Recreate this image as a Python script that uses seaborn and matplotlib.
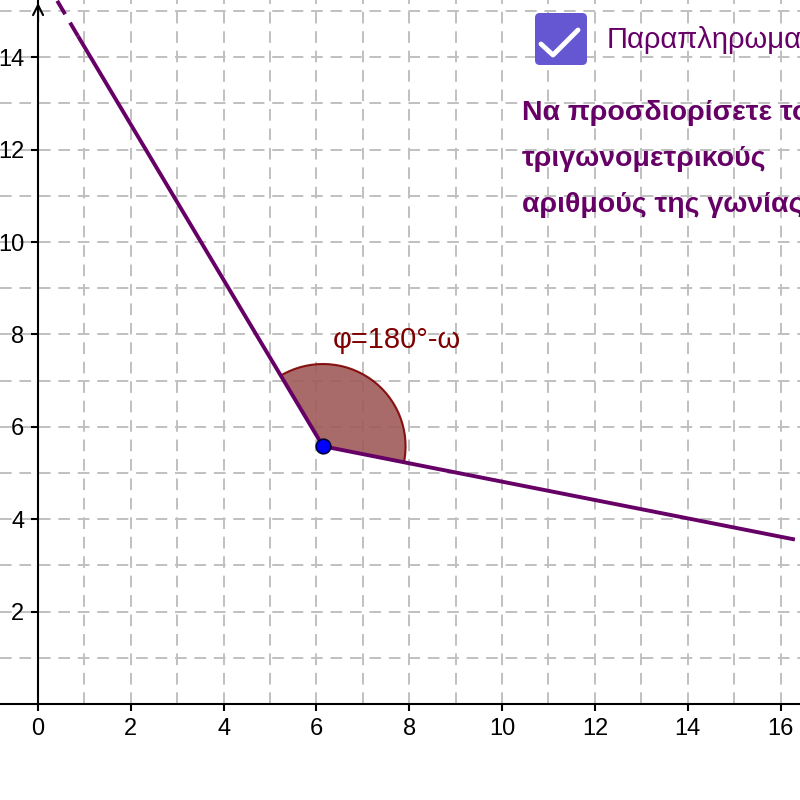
import numpy as np
import pandas as pd
import matplotlib
matplotlib.use('Agg')
import matplotlib.pyplot as plt
import seaborn as sns
from matplotlib.patches import Wedge, FancyBboxPatch
from matplotlib.lines import Line2D

# 데이터: 꼭짓점과 두 반직선의 끝점
vertex = [6.14, 5.58]
ray1_solid_end = [0.86, 14.46]
ray1_dash_end = [0.25, 15.5]
ray2_end = [16.31, 3.56]
arc_radius = 1.78
angle_label = 'φ=180°-ω'

x_ticks = [0, 2, 4, 6, 8, 10, 12, 14, 16]
y_ticks = [2, 4, 6, 8, 10, 12, 14]

checkbox_label = 'Παραπληρωματικές'
question_lines = ['Να προσδιορίσετε τους', 'τριγωνομετρικούς', 'αριθμούς της γωνίας φ']

line_color = '#660066'
arc_color = '#7f0000'

sns.set_theme(style='white')
plt.rcParams['font.family'] = ['Liberation Sans', 'DejaVu Sans']

fig = plt.figure(figsize=(8, 8), dpi=100)
ax = fig.add_axes([0, 0.12, 1, 0.88])
ax.set_xlim(-0.82, 16.42)
ax.set_ylim(0, 15.24)

# 격자
ax.grid(False)
for gx in range(0, 17):
    ax.axvline(gx, color='#c0c0c0', lw=1.4, ls=(0, (6, 4)), zorder=0)
for gy in range(1, 16):
    ax.axhline(gy, color='#c0c0c0', lw=1.4, ls=(0, (6, 4)), zorder=0)

# 축
for s in ['top', 'right']:
    ax.spines[s].set_visible(False)
ax.spines['left'].set_position(('data', 0))
ax.spines['left'].set_color('black')
ax.spines['bottom'].set_color('black')
ax.spines['left'].set_linewidth(1.5)
ax.spines['bottom'].set_linewidth(1.5)
ax.set_xticks(x_ticks)
ax.set_yticks(y_ticks)
ax.set_xticklabels([str(v) for v in x_ticks])
ax.set_yticklabels([str(v) for v in y_ticks])
ax.tick_params(axis='both', direction='out', length=5, width=1.5, color='black',
               labelsize=17, labelcolor='black', bottom=True, left=True)
ax.tick_params(axis='x', pad=5)
ax.tick_params(axis='y', pad=5)
ax.annotate('', xy=(0, 15.24), xytext=(0, 14.7),
            arrowprops=dict(arrowstyle='->', color='black', lw=1.5, mutation_scale=18),
            annotation_clip=False)

# 각
t1 = np.degrees(np.arctan2(ray2_end[1] - vertex[1], ray2_end[0] - vertex[0]))
t2 = np.degrees(np.arctan2(ray1_solid_end[1] - vertex[1], ray1_solid_end[0] - vertex[0]))
ax.add_patch(Wedge(vertex, arc_radius, t1, t2, facecolor='#a05a5a', edgecolor=arc_color,
                   lw=1.5, alpha=0.9, zorder=2))
ax.text(vertex[0] + 0.2, vertex[1] + 2.0, angle_label, color=arc_color, fontsize=21,
        ha='left', va='bottom')

# 반직선
rays = pd.DataFrame({
    'x': [vertex[0], ray1_solid_end[0], np.nan, vertex[0], ray2_end[0]],
    'y': [vertex[1], ray1_solid_end[1], np.nan, vertex[1], ray2_end[1]],
})
ax.plot(rays['x'], rays['y'], color=line_color, lw=2.8, solid_capstyle='butt', zorder=3)
ax.plot([ray1_solid_end[0], ray1_dash_end[0]], [ray1_solid_end[1], ray1_dash_end[1]],
        color=line_color, lw=2.8, ls=(0, (4, 2.5)), zorder=3, clip_on=True)
sns.scatterplot(x=[vertex[0]], y=[vertex[1]], color='#0000ff', edgecolor='#000033',
                s=110, linewidth=1.2, zorder=4, ax=ax)

# 체크박스와 텍스트
fig.patches.append(FancyBboxPatch((535 / 800, 1 - 65 / 800), 52 / 800, 52 / 800,
                                  boxstyle='round,pad=0,rounding_size=0.006',
                                  transform=fig.transFigure, facecolor='#6557d2',
                                  edgecolor='none'))
fig.lines.append(Line2D([541 / 800, 553 / 800, 578 / 800],
                        [1 - 44 / 800, 1 - 55 / 800, 1 - 30 / 800],
                        transform=fig.transFigure, color='white', lw=3.5,
                        solid_capstyle='round', solid_joinstyle='round'))
fig.text(607 / 800, 1 - 40 / 800, checkbox_label, color=line_color, fontsize=21,
         ha='left', va='center')
for i, line in enumerate(question_lines):
    fig.text(522 / 800, 1 - (113 + i * 46) / 800, line, color=line_color, fontsize=20.5,
             fontweight='bold', ha='left', va='center')

fig.savefig('out.png', dpi=100)
